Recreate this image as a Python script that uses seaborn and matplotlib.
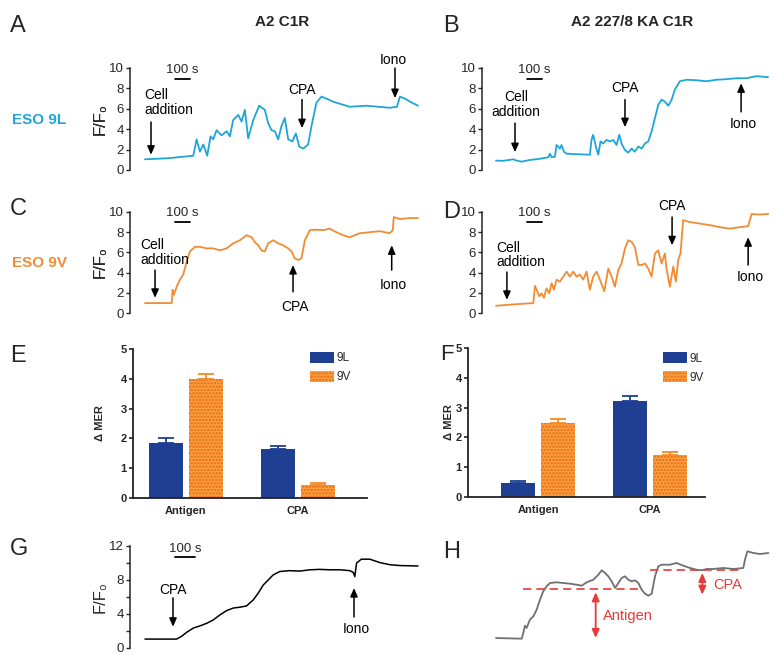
import numpy as np
import pandas as pd
import matplotlib
matplotlib.use("Agg")
import matplotlib.pyplot as plt
import seaborn as sns

# ---------------- data ----------------
# Panel A (ESO 9L, A2 C1R) time [s], F/F0
A_t = [0, 150, 322, 344, 366, 389, 415, 437, 455, 477, 511, 544, 566, 588, 622, 644, 666, 688, 722, 761,
       799, 821, 844, 866, 888, 910, 932, 955, 983, 1006, 1028, 1055, 1088, 1110, 1143, 1177, 1210,
       1254, 1365, 1476, 1633, 1680, 1700, 1733, 1767, 1820]
A_v = [1.05, 1.15, 1.4, 3.0, 1.8, 2.5, 1.4, 3.3, 3.0, 3.9, 3.4, 3.8, 3.3, 4.9, 5.4, 4.75, 5.9, 3.1, 4.9, 6.3,
       5.9, 4.6, 3.9, 3.8, 3.0, 4.3, 5.1, 3.0, 2.8, 3.6, 2.3, 2.1, 2.5, 4.3, 6.6, 7.2, 7.0,
       6.7, 6.2, 6.3, 6.1, 6.2, 7.2, 7.0, 6.7, 6.3]
# Panel B (ESO 9L, A2 227/8 KA C1R)
B_t = [0, 49, 115, 138, 171, 226, 293, 349, 360, 371, 393, 404, 415, 426, 437, 453, 471, 537, 626, 637,
       648, 666, 682, 697, 715, 737, 759, 782, 804, 822, 837, 860, 882, 904, 926, 949, 971, 993, 1015, 1037,
       1060, 1082, 1104, 1126, 1149, 1171, 1193, 1226, 1271, 1337, 1404, 1470, 1537, 1603, 1670, 1737, 1814]
B_v = [0.92, 0.9, 1.05, 0.92, 0.82, 0.98, 1.1, 1.25, 1.6, 1.25, 1.3, 2.45, 2.3, 2.1, 2.45, 1.8, 1.6, 1.55, 1.5, 2.95,
       3.45, 2.3, 1.5, 2.8, 2.6, 2.95, 2.8, 2.95, 2.45, 3.45, 2.6, 1.95, 1.7, 2.1, 1.8, 2.3, 2.1, 2.6, 2.8, 3.75,
       5.1, 6.4, 6.9, 6.7, 6.3, 6.9, 7.9, 8.7, 8.85, 8.8, 8.7, 8.85, 8.9, 9.0, 9.0, 9.2, 9.1]
# Panel C (ESO 9V, A2 C1R)
C_t = [0, 78, 178, 184, 193, 211, 233, 255, 278, 300, 333, 366, 411, 455, 500, 544, 588, 633, 677, 711,
       733, 755, 777, 799, 821, 855, 888, 921, 955, 977, 999, 1021, 1043, 1066, 1099, 1143, 1188, 1232, 1276, 1321,
       1365, 1432, 1499, 1565, 1632, 1652, 1659, 1700, 1767, 1820]
C_v = [0.98, 0.98, 0.98, 2.3, 1.8, 2.6, 3.3, 3.8, 5.1, 6.1, 6.55, 6.55, 6.4, 6.4, 6.2, 6.4, 6.9, 7.2, 7.7, 7.5,
       7.0, 6.7, 6.2, 6.1, 6.9, 7.2, 6.9, 6.7, 6.4, 6.1, 5.4, 5.25, 5.4, 7.2, 8.2, 8.25, 8.2, 8.35, 8.0, 7.7,
       7.5, 7.9, 8.0, 8.1, 7.9, 8.2, 9.5, 9.3, 9.4, 9.4]
# Panel D (ESO 9V, A2 227/8 KA C1R)
D_t = [0, 93, 182, 249, 260, 271, 289, 304, 320, 337, 355, 371, 386, 404, 426, 449, 471, 493, 515, 537,
       559, 582, 604, 626, 648, 671, 693, 722, 749, 771, 793, 815, 837, 860, 882, 904, 926, 949, 971, 993,
       1015, 1037, 1060, 1082, 1104, 1126, 1137, 1159, 1182, 1199, 1215, 1230, 1248, 1293, 1359, 1426, 1492,
       1559, 1626, 1681, 1704, 1759, 1815]
D_v = [0.72, 0.82, 0.92, 0.98, 2.7, 2.3, 1.65, 1.95, 1.5, 2.45, 1.95, 2.95, 2.3, 3.3, 3.1, 3.6, 4.1, 3.6, 4.1, 3.6,
       3.8, 3.3, 4.1, 2.3, 3.6, 4.1, 3.3, 2.15, 4.4, 3.6, 2.6, 4.25, 4.9, 6.4, 7.2, 7.05, 6.55, 4.75, 4.75, 4.9,
       4.4, 3.6, 5.9, 6.2, 4.9, 5.9, 4.4, 2.6, 4.6, 3.1, 5.25, 5.9, 9.2, 9.0, 8.85, 8.7, 8.5,
       8.35, 8.5, 8.6, 9.8, 9.75, 9.8]
# Panel G (CPA then ionomycin)
G_t = [0, 75, 158, 183, 208, 242, 275, 308, 341, 375, 408, 441, 475, 508, 524, 541, 566, 591, 616, 641,
       674, 724, 774, 824, 874, 924, 974, 1024, 1041, 1049, 1058, 1082, 1124, 1174, 1224, 1275, 1365]
G_v = [1.05, 1.05, 1.05, 1.37, 1.84, 2.35, 2.6, 2.9, 3.3, 3.9, 4.4, 4.7, 4.8, 4.95, 5.3, 5.65, 6.45, 7.4, 8.0, 8.6,
       9.0, 9.1, 9.05, 9.2, 9.25, 9.2, 9.2, 9.1, 8.9, 8.4, 10.0, 10.45, 10.45, 10.05, 9.8, 9.7, 9.65]
# Panel H (schematic)
H_t = [0, 71, 171, 182, 193, 204, 226, 249, 271, 293, 315, 337, 360, 404, 448, 493, 537, 571, 604, 648,
       682, 704, 726, 748, 770, 793, 815, 837, 859, 881, 904, 926, 948, 970, 992, 1015, 1037, 1059, 1081, 1103,
       1159, 1203, 1248, 1292, 1336, 1370, 1403, 1447, 1514, 1581, 1647, 1658, 1674, 1714, 1758, 1814]
H_v = [1.5, 1.47, 1.43, 2.0, 2.73, 2.5, 3.33, 3.67, 4.33, 5.33, 6.17, 6.67, 7.0, 7.07, 7.0, 6.93, 6.83, 6.73, 7.07, 7.33,
       7.83, 8.27, 8.0, 7.67, 7.17, 6.5, 7.0, 7.5, 7.67, 7.33, 7.17, 7.27, 7.0, 6.33, 5.93, 5.73, 5.93, 7.67, 8.67, 8.83,
       8.83, 9.0, 8.73, 8.5, 8.33, 8.27, 8.4, 8.4, 8.5, 8.4, 8.5, 9.33, 10.17, 10.0, 9.9, 10.0]
H_antigen_level = 6.43
H_cpa_level = 8.33

# Bar charts
categories = ["Antigen", "CPA"]
peptides = ["9L", "9V"]
E_9L = [1.83, 1.66]
E_9V = [4.0, 0.45]
E_9L_err = [0.17, 0.10]
E_9V_err = [0.15, 0.06]
F_9L = [0.48, 3.22]
F_9V = [2.5, 1.41]
F_9L_err = [0.06, 0.16]
F_9V_err = [0.12, 0.11]

# ---------------- style ----------------
sns.set_style("ticks")
plt.rcParams["font.family"] = ["Liberation Sans", "DejaVu Sans"]
plt.rcParams["hatch.linewidth"] = 1.1

CYAN = "#1FA5D8"
ORANGE = "#F08C34"
BLUE = "#1F3F93"
BAR_OR = "#F8A03A"
BAR_OR_DARK = "#EA661E"
RED = "#E83A36"

W, H = 778, 662
fig = plt.figure(figsize=(W / 100, H / 100), dpi=100)


def box(x0, y0, x1, y1):
    return fig.add_axes([x0 / W, 1 - y1 / H, (x1 - x0) / W, (y1 - y0) / H])


def ftext(x, y, s, **kw):
    fig.text(x / W, 1 - y / H, s, **kw)


def label_at(ax, px_box, label_x_px, text, fs, weight="normal"):
    x0, y0, x1, y1 = px_box
    ax.set_ylabel(text, fontsize=fs, fontweight=weight)
    ax.yaxis.set_label_coords((label_x_px - x0) / (x1 - x0), 0.5)
    ax.yaxis.label.set_va("center")


def trace_axes(px, t, v, color, xlim, ylim, yticks, minor=None, lw=1.3):
    ax = box(*px)
    sns.lineplot(x=t, y=v, ax=ax, color=color, linewidth=lw, estimator=None, clip_on=False)
    ax.set_xlim(xlim)
    ax.set_ylim(ylim)
    for s in ["top", "right", "bottom"]:
        ax.spines[s].set_visible(False)
    ax.spines["left"].set_linewidth(1.1)
    ax.set_xticks([])
    ax.set_yticks(yticks)
    if minor is not None:
        ax.set_yticks(minor, minor=True)
        ax.tick_params(axis="y", which="minor", length=3, width=1)
    ax.tick_params(axis="y", length=3, width=1, pad=1.5, labelsize=9.5)
    ax.set_xlabel("")
    label_at(ax, px, 100, "F/F₀", 12)
    ax.patch.set_alpha(0)
    return ax


def arrow(ax, tail, head, color="black", both=False, lw=1.1):
    style = "<|-|>" if both else "-|>"
    ax.annotate("", xy=head, xytext=tail,
                arrowprops=dict(arrowstyle=style + ",head_length=0.5,head_width=0.22",
                                color=color, lw=lw, shrinkA=0, shrinkB=0),
                annotation_clip=False)


def note(ax, s, xy, ha="center", fs=10, color="black", ma="center"):
    ax.text(xy[0], xy[1], s, ha=ha, va="center", fontsize=fs, color=color,
            multialignment=ma, linespacing=1.05, clip_on=False)


def scalebar(ax, t0, ybar, ytext):
    ax.plot([t0, t0 + 100], [ybar, ybar], color="black", lw=1.3, clip_on=False)
    ax.text(t0 + 50, ytext, "100 s", ha="center", va="center", fontsize=9.5, clip_on=False)


# ---------------- trace panels ----------------
pxA = (130, 68, 425, 170)
axA = trace_axes(pxA, A_t, A_v, CYAN, (-100, 1867), (0, 10), range(0, 11, 2))
scalebar(axA, 200, 8.9, 9.8)
note(axA, "Cell\naddition", (-7, 6.6), ha="left", ma="left")
arrow(axA, (40, 4.7), (40, 1.5))
note(axA, "CPA", (1047, 7.8))
arrow(axA, (1047, 6.9), (1047, 4.1))
note(axA, "Iono", (1654, 10.8))
arrow(axA, (1667, 10.0), (1667, 7.05))

pxB = (482, 68, 775, 170)
axB = trace_axes(pxB, B_t, B_v, CYAN, (-93, 1860), (0, 10), range(0, 11, 2))
scalebar(axB, 207, 8.9, 9.8)
note(axB, "Cell\naddition", (133, 6.4))
arrow(axB, (127, 4.6), (127, 1.75))
note(axB, "CPA", (860, 8.0))
arrow(axB, (860, 6.9), (860, 4.2))
note(axB, "Iono", (1647, 4.5))
arrow(axB, (1634, 5.7), (1634, 8.5))

pxC = (130, 212, 425, 313)
axC = trace_axes(pxC, C_t, C_v, ORANGE, (-100, 1867), (0, 10), range(0, 11, 2))
scalebar(axC, 200, 9.0, 9.9)
note(axC, "Cell\naddition", (-33, 6.0), ha="left", ma="left")
arrow(axC, (67, 4.25), (67, 1.5))
note(axC, "CPA", (1000, 0.6))
arrow(axC, (987, 2.1), (987, 4.75))
note(axC, "Iono", (1654, 2.8))
arrow(axC, (1645, 4.25), (1645, 6.7))

pxD = (482, 212, 775, 313)
axD = trace_axes(pxD, D_t, D_v, ORANGE, (-93, 1860), (0, 10), range(0, 11, 2))
scalebar(axD, 207, 9.0, 9.9)
note(axD, "Cell\naddition", (0, 5.75), ha="left", ma="left")
arrow(axD, (73, 4.05), (73, 1.3))
note(axD, "CPA", (1174, 10.6))
arrow(axD, (1174, 9.5), (1174, 6.7))
note(axD, "Iono", (1694, 3.55))
arrow(axD, (1681, 4.75), (1681, 7.5))

pxG = (130, 546, 425, 648)
axG = trace_axes(pxG, G_t, G_v, "black", (-75, 1400), (0, 12), [0, 4, 8, 12], minor=[2, 6, 10], lw=1.1)
scalebar(axG, 150, 10.7, 11.65)
note(axG, "CPA", (140, 6.8))
arrow(axG, (140, 5.9), (140, 2.5))
note(axG, "Iono", (1055, 2.2))
arrow(axG, (1045, 3.65), (1045, 7.05))

# Panel H schematic
pxH = (482, 553, 775, 653)
axH = box(*pxH)
sns.lineplot(x=H_t, y=H_v, ax=axH, color="#707070", linewidth=1.3, estimator=None, clip_on=False)
axH.set_xlim(-93, 1858)
axH.set_ylim(0, 10)
axH.axis("off")
axH.plot([182, 959], [H_antigen_level, H_antigen_level], color=RED, lw=1.2, ls=(0, (5, 3)), clip_on=False)
axH.plot([1026, 1647], [H_cpa_level, H_cpa_level], color=RED, lw=1.2, ls=(0, (5, 3)), clip_on=False)
arrow(axH, (664, H_antigen_level - 0.36), (664, H_v[0]), color=RED, both=True, lw=1.3)
arrow(axH, (1374, H_cpa_level - 0.33), (1374, 5.83), color=RED, both=True, lw=1.3)
note(axH, "Antigen", (715, 3.73), ha="left", color=RED, fs=10.5)
note(axH, "CPA", (1447, 6.83), ha="left", color=RED, fs=10.5)


# ---------------- bar panels ----------------
def bar_axes(px, v9L, v9V, e9L, e9V, xlim, leg_xy):
    ax = box(*px)
    df = pd.DataFrame({"cond": categories * 2,
                       "pep": [peptides[0]] * 2 + [peptides[1]] * 2,
                       "val": v9L + v9V})
    sns.barplot(data=df, x="cond", y="val", hue="pep", order=categories, hue_order=peptides,
                palette={"9L": BLUE, "9V": BAR_OR}, width=0.714, gap=0.17, errorbar=None,
                saturation=1, legend=False, ax=ax)
    for cont, err, ecol in zip(ax.containers, [e9L, e9V], [BLUE, "#F08A2A"]):
        xs = [p.get_x() + p.get_width() / 2 for p in cont]
        hs = [p.get_height() for p in cont]
        ax.errorbar(xs, hs, yerr=[np.zeros(len(err)), err], fmt="none", ecolor=ecol,
                    elinewidth=1.3, capsize=6, capthick=1.3, zorder=1)
    for p in ax.containers[1]:
        p.set_hatch(".....")
        p.set_edgecolor(BAR_OR_DARK)
        p.set_linewidth(0)
    for p in ax.containers[0]:
        p.set_linewidth(0)
    ax.set_xlim(xlim)
    ax.set_ylim(0, 5)
    ax.set_yticks(range(6))
    for s in ["top", "right"]:
        ax.spines[s].set_visible(False)
    for s in ["left", "bottom"]:
        ax.spines[s].set_linewidth(1.3)
        ax.spines[s].set_color("#222222")
    ax.tick_params(axis="y", length=3, width=1.2, pad=1.5, labelsize=8)
    ax.tick_params(axis="x", length=0, pad=6, labelsize=8)
    for lab in ax.get_xticklabels() + ax.get_yticklabels():
        lab.set_fontweight("bold")
    ax.set_xlabel("")
    label_at(ax, px, 100 if px[0] < 300 else 449, "Δ MER", 8, weight="bold")
    ax.legend(handles=[ax.containers[0].patches[0], ax.containers[1].patches[0]], labels=peptides,
              loc="upper left", bbox_to_anchor=leg_xy, frameon=False, fontsize=8.5,
              handlelength=2.0, handleheight=1.05, handletextpad=0.25, borderpad=0,
              borderaxespad=0, labelspacing=0.55)
    ax.patch.set_alpha(0)
    return ax


axE = bar_axes((133, 349, 367, 498), E_9L, E_9V, E_9L_err, E_9V_err, (-0.473, 1.616), (0.756, 0.98))
axF = bar_axes((468, 348, 705, 497), F_9L, F_9V, F_9L_err, F_9V_err, (-0.625, 1.49), (0.823, 0.973))

# ---------------- text labels ----------------
for letter, x, y, fs in [("A", 10, 32, 17), ("B", 443, 32, 17), ("C", 10, 215, 17), ("D", 443, 218, 17),
                         ("E", 10, 362, 17), ("F", 440, 360, 16), ("G", 10, 555, 17), ("H", 443, 558, 17)]:
    ftext(x, y, letter, fontsize=fs, ha="left", va="baseline")

ftext(282, 26, "A2 C1R", fontsize=11, fontweight="bold", ha="center", va="baseline")
ftext(632, 26, "A2 227/8 KA C1R", fontsize=11, fontweight="bold", ha="center", va="baseline")
ftext(12, 124, "ESO 9L", fontsize=11, fontweight="bold", color=CYAN, ha="left", va="baseline")
ftext(12, 267, "ESO 9V", fontsize=11, fontweight="bold", color=ORANGE, ha="left", va="baseline")

fig.savefig("out.png", dpi=100)
